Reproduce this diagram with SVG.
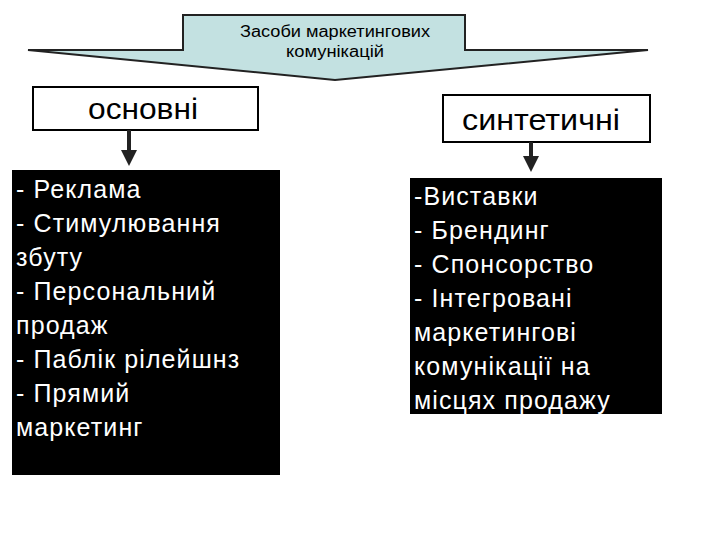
<svg xmlns="http://www.w3.org/2000/svg" width="720" height="540" viewBox="0 0 720 540">
<defs><style>
.t{font-family:"Liberation Sans",Arial,sans-serif;}
.w{fill:#fff;font-size:25px;letter-spacing:1.1px;}
.box{fill:#fff;stroke:#000;stroke-width:2;}
.blk{fill:#000;}
</style>
<marker id="ah" markerWidth="4" markerHeight="4" refX="2" refY="2" orient="auto" markerUnits="strokeWidth"><path d="M0,0 L4,2 L0,4 Z" fill="#222"/></marker></defs>
<g id="top"><path d="M183,15 H465 V50 H648 L335,80 L28,50 H183 Z" fill="#c3e1e1" stroke="#222" stroke-width="2"/>
<text class="t" x="335" y="37" font-size="16" text-anchor="middle" textLength="190" lengthAdjust="spacingAndGlyphs">Засоби маркетингових</text>
<text class="t" x="335" y="57" font-size="16" text-anchor="middle" textLength="98" lengthAdjust="spacingAndGlyphs">комунікацій</text></g>
<g id="osnovni"><rect class="box" x="33" y="87" width="225" height="43"/><text class="t" x="143" y="119" font-size="30" text-anchor="middle" textLength="110" lengthAdjust="spacingAndGlyphs">основні</text></g>
<g id="syntetychni"><rect class="box" x="443" y="95" width="207" height="47"/><text class="t" x="541" y="130" font-size="30" text-anchor="middle" textLength="158" lengthAdjust="spacingAndGlyphs">синтетичні</text></g>
<g id="left"><rect class="blk" x="12" y="170" width="268" height="305"/>
<text class="t w" x="16"><tspan x="16" y="198">- Реклама</tspan><tspan x="16" y="232">- Стимулювання</tspan><tspan x="16" y="266">збуту</tspan><tspan x="16" y="300">- Персональний</tspan><tspan x="16" y="334">продаж</tspan><tspan x="16" y="368">- Паблік рілейшнз</tspan><tspan x="16" y="402">- Прямий</tspan><tspan x="16" y="436">маркетинг</tspan></text></g>
<g id="right"><rect class="blk" x="410" y="178" width="252" height="236"/>
<text class="t w" x="414"><tspan x="414" y="205">-Виставки</tspan><tspan x="414" y="239">- Брендинг</tspan><tspan x="414" y="273">- Спонсорство</tspan><tspan x="414" y="307">- Інтегровані</tspan><tspan x="414" y="341">маркетингові</tspan><tspan x="414" y="375">комунікації на</tspan><tspan x="414" y="409">місцях продажу</tspan></text></g>
<g id="connectors" stroke="#222" stroke-width="4" marker-end="url(#ah)">
<line x1="129" y1="130" x2="129" y2="158"/><line x1="531" y1="142" x2="531" y2="164"/></g>
</svg>
